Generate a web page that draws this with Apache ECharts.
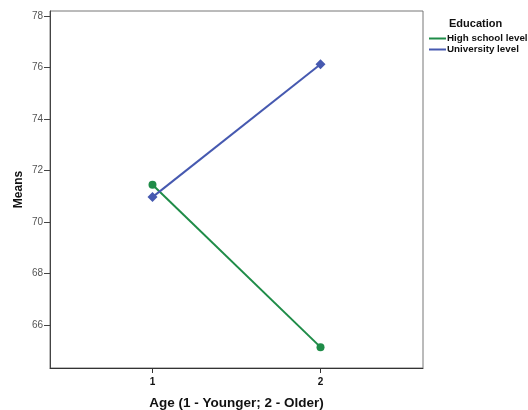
<!DOCTYPE html>
<html><head><meta charset="utf-8">
<script src="https://cdn.jsdelivr.net/npm/echarts@6/dist/echarts.min.js"></script>
<style>html,body{margin:0;padding:0;background:#fff}#c{width:528px;height:410px}</style>
</head><body><div id="c"></div>
<script>
const ages = [1, 2];
const highSchool = [71.44, 65.13];
const university = [70.96, 76.12];
const yTicks = [66, 68, 70, 72, 74, 76, 78];
const seriesNames = ['High school level', 'University level'];

const chart = echarts.init(document.getElementById('c'), null, {renderer: 'canvas'});
const font = 'Liberation Sans, Arial, sans-serif';
chart.setOption({
  animation: false,
  backgroundColor: '#fff',
  grid: {left: 50, top: 11, right: 105, bottom: 42, show: true, borderColor: '#777', borderWidth: 1, outerBoundsMode: 'none', containLabel: false},
  title: {text: 'Education', left: 449, top: 18, padding: 0, textStyle: {fontFamily: font, fontWeight: 'bold', fontSize: 11, color: '#111'}},
  legend: {
    orient: 'vertical', left: 424, top: 28, itemWidth: 17, itemHeight: 2, itemGap: 0,
    icon: 'rect', data: seriesNames,
    textStyle: {fontFamily: font, fontWeight: 'bold', fontSize: 9.8, color: '#111', lineHeight: 11, padding: [0, 0, 0, -4]}
  },
  xAxis: {
    type: 'value', min: 0.39, max: 2.61,
    name: 'Age (1 - Younger; 2 - Older)', nameLocation: 'middle', nameGap: 28,
    nameTextStyle: {fontFamily: font, fontWeight: 'bold', fontSize: 13.5, color: '#111'},
    axisLine: {lineStyle: {color: '#333', width: 1}},
    axisTick: {customValues: ages, length: 5, lineStyle: {color: '#333'}},
    axisLabel: {customValues: ages, margin: 9, fontFamily: font, fontWeight: 'bold', fontSize: 10, color: '#111'},
    splitLine: {show: false}
  },
  yAxis: {
    type: 'value', min: 64.32, max: 78.19,
    name: 'Means', nameLocation: 'middle', nameGap: 25, nameMoveOverlap: false,
    nameTextStyle: {fontFamily: font, fontWeight: 'bold', fontSize: 12, color: '#111'},
    axisLine: {show: true, lineStyle: {color: '#444', width: 1}},
    axisTick: {show: true, customValues: yTicks, length: 6, lineStyle: {color: '#444'}},
    axisLabel: {customValues: yTicks, margin: 7, fontFamily: font, fontSize: 10, color: '#555'},
    splitLine: {show: false}
  },
  series: [
    {name: seriesNames[0], type: 'line', data: ages.map((a, i) => [a, highSchool[i]]),
     symbol: 'circle', symbolSize: 8, color: '#1f8c48', lineStyle: {width: 2, color: '#1f8c48'}, itemStyle: {color: '#1f8c48'}},
    {name: seriesNames[1], type: 'line', data: ages.map((a, i) => [a, university[i]]),
     symbol: 'diamond', symbolSize: 10, color: '#4659b0', lineStyle: {width: 2, color: '#4659b0'}, itemStyle: {color: '#4659b0'}}
  ]
});
</script></body></html>
